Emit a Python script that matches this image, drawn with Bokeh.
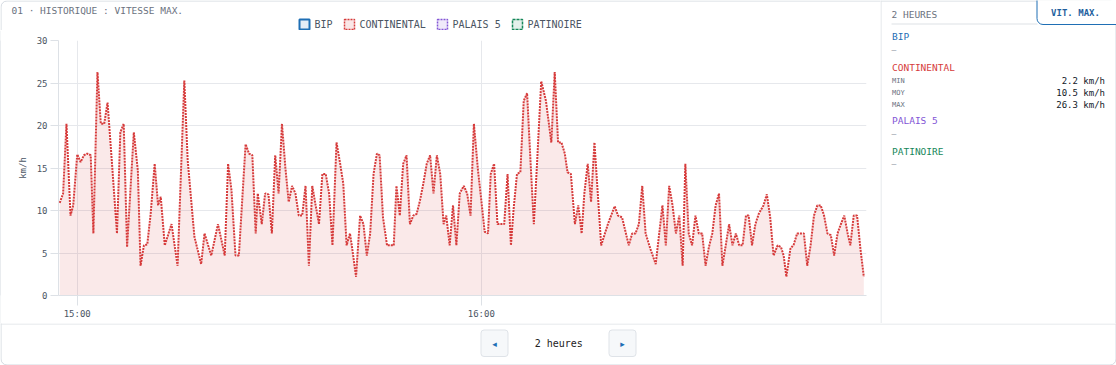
import pandas as pd
from bokeh.plotting import figure
from bokeh.layouts import row, column
from bokeh.models import FixedTicker, DatetimeTickFormatter, Range1d, ColumnDataSource
from bokeh.core.properties import value
from bokeh.embed import file_html
from bokeh.resources import INLINE

# ---------------- data ----------------
# minutes since 15:00 and max speed (km/h) for CONTINENTAL
minutes = [-2.6, -2.1, -1.6, -1.0, -0.6, 0.0, 0.5, 1.0, 1.5, 2.0, 2.4, 3.0, 3.5, 4.0, 4.5,
           5.2, 5.9, 6.4, 6.9, 7.4, 8.4, 9.0, 9.4, 9.9, 10.4, 10.9, 11.5, 12.0, 12.4, 13.0,
           14.0, 14.9, 15.9, 16.4, 17.4, 18.4, 18.9, 19.9, 20.9, 21.9, 22.4, 22.9, 23.5, 24.0,
           25.0, 25.5, 26.0, 26.5, 26.8, 27.4, 27.9, 28.4, 28.9, 29.4, 29.9, 30.4, 30.9, 31.4,
           31.9, 32.4, 32.9, 33.4, 33.9, 34.4, 34.9, 35.4, 35.9, 36.4, 36.9, 37.4, 37.9, 38.5,
           39.0, 39.5, 40.0, 40.5, 40.8, 41.4, 42.0, 42.5, 43.0, 43.5, 44.0, 44.5, 44.9, 45.4,
           46.0, 46.5, 47.0, 47.4, 47.9, 48.4, 48.9, 49.4, 49.9, 50.4, 50.9, 51.4, 51.9, 52.4,
           52.9, 53.4, 53.9, 54.4, 54.8, 55.3, 55.8, 56.3, 56.8, 57.4, 57.9, 58.4, 58.9, 59.5,
           60.0, 60.5, 61.0, 61.4, 61.9, 62.4, 62.9, 63.4, 63.9, 64.4, 64.8, 65.3, 65.8, 66.3,
           66.8, 67.3, 67.8, 68.3, 68.9, 69.6, 70.4, 70.9, 71.4, 71.9, 72.4, 72.8, 73.3, 73.9,
           74.4, 74.9, 75.3, 75.8, 76.3, 76.8, 77.8, 78.8, 79.8, 80.3, 80.9, 81.9, 82.4, 82.9,
           83.4, 83.9, 84.4, 85.1, 85.9, 86.9, 87.4, 87.9, 88.4, 88.9, 89.4, 89.9, 90.3, 90.8,
           91.3, 91.8, 92.3, 92.8, 93.3, 93.8, 94.3, 94.8, 95.3, 95.8, 96.3, 96.8, 97.3, 97.8,
           98.3, 98.8, 99.3, 99.7, 100.2, 100.7, 101.2, 101.9, 102.4, 102.9, 103.4, 104.0, 104.5,
           104.9, 105.3, 105.9, 106.4, 106.9, 107.4, 107.9, 108.4, 108.9, 109.4, 109.9, 110.4,
           110.9, 111.4, 111.9, 112.4, 112.9, 113.4, 113.9, 114.4, 114.8, 115.3, 115.8, 116.3,
           116.8]
speed = [10.9, 12.0, 20.2, 9.4, 10.6, 16.6, 15.7, 16.5, 16.7, 16.5, 7.3, 26.3, 20.2, 20.2, 22.7,
         15.1, 7.3, 19.2, 20.2, 5.7, 19.2, 14.7, 3.5, 5.9, 6.0, 9.6, 15.5, 10.6, 11.6, 5.9,
         8.4, 3.5, 25.3, 15.9, 6.9, 3.7, 7.3, 4.7, 8.4, 4.7, 15.5, 12.4, 4.7, 4.7,
         17.8, 16.7, 16.5, 7.3, 12.0, 8.4, 12.0, 11.9, 7.3, 16.5, 12.0, 20.2, 15.1, 11.0,
         12.9, 12.0, 9.4, 9.4, 12.9, 3.5, 12.9, 10.6, 8.4, 14.3, 14.3, 12.0, 5.9, 18.0,
         15.7, 13.2, 5.9, 7.3, 5.7, 2.2, 9.4, 8.4, 4.7, 7.3, 14.3, 16.7, 16.5, 9.2,
         5.9, 5.9, 5.9, 12.9, 9.4, 15.5, 16.5, 8.4, 9.4, 9.6, 11.2, 13.2, 15.5, 16.5,
         12.0, 16.5, 14.3, 8.4, 9.4, 5.9, 10.6, 5.9, 12.0, 12.9, 12.0, 9.4, 20.2, 14.8,
         11.2, 7.5, 7.3, 14.3, 15.5, 8.4, 8.4, 8.4, 14.3, 5.9, 10.2, 14.3, 14.5, 22.9,
         23.8, 15.9, 8.4, 15.9, 25.2, 22.9, 18.0, 26.3, 18.0, 18.0, 16.7, 14.5, 14.3, 8.4,
         10.6, 7.3, 12.0, 15.5, 11.0, 18.0, 5.9, 8.4, 10.5, 9.4, 9.2, 5.9, 7.3, 7.3,
         8.4, 12.9, 7.3, 5.5, 3.7, 10.6, 5.9, 12.9, 10.6, 7.3, 9.4, 3.5, 15.5, 7.3,
         5.9, 9.4, 7.3, 7.3, 3.5, 5.7, 7.3, 10.6, 12.0, 3.5, 5.9, 8.4, 5.9, 7.3,
         5.9, 5.9, 9.4, 9.4, 5.9, 8.4, 9.6, 10.6, 11.9, 9.2, 4.7, 5.9, 5.7,
         4.7, 2.2, 5.5, 6.0, 7.3, 7.3, 7.3, 3.5, 5.9, 9.4, 10.6, 10.6,
         9.4, 7.3, 7.1, 4.7, 7.3, 8.4, 9.4, 7.3, 5.9, 9.4, 9.4, 5.5,
         2.2]

series_names = ["BIP", "CONTINENTAL", "PALAIS 5", "PATINOIRE"]
series_colors = ["#1f6fb5", "#d63b3b", "#8356d6", "#16875a"]
stat_labels = ["MIN", "MOY", "MAX"]
stat_values = ["2.2 km/h", "10.5 km/h", "26.3 km/h"]
y_ticks = [0, 5, 10, 15, 20, 25, 30]
x_tick_labels = ["15:00", "16:00"]

base = pd.Timestamp("2024-05-01 15:00:00")
times = [base + pd.Timedelta(minutes=m) for m in minutes]
x_ticks = [pd.Timestamp("2024-05-01 " + t) for t in x_tick_labels]

MONO = "DejaVu Sans Mono"
GRAY = "#6b7280"
LINE = "#dde1e6"
CARD = "#d3d9e0"


def canvas(w, h, bg="white"):
    f = figure(width=w, height=h, x_range=Range1d(0, w), y_range=Range1d(h, 0),
               min_border=0, output_backend="svg", toolbar_location=None,
               x_axis_location=None, y_axis_location=None)
    f.grid.visible = False
    f.outline_line_color = None
    f.background_fill_color = bg
    f.border_fill_color = bg
    return f


def txt(f, X, Y, s, size="9px", color=GRAY, align="left", style="normal", font=MONO):
    f.text(x=[X], y=[Y], text=[s], text_font=value(font), text_font_size=size,
           text_color=color, text_align=align, text_baseline="middle", text_font_style=style)


def rect(f, l, r, t, b, fill=None, line=None, lw=1, dash="solid", radius=0, falpha=1.0):
    f.quad(left=[l], right=[r], top=[t], bottom=[b],
           fill_color=fill if fill else "white", fill_alpha=falpha if fill else 0,
           line_color=line if line else "white", line_alpha=1 if line else 0,
           line_width=lw, line_dash=dash, border_radius=radius)


# ---------------- top strip: title + legend ----------------
top = canvas(880, 30)
rect(top, 0.5, 2000, 0.5, 2000, line=CARD, radius=6)
txt(top, 11, 10, "01 · HISTORIQUE : VITESSE MAX.", size="9.5px", color=GRAY)
leg_x = [299, 344, 437, 512]
leg_dash = ["solid", "2 1", "2 1", "3 1"]
leg_lw = [2, 1.5, 1.5, 1.5]
for xx, name, col, dsh, lw in zip(leg_x, series_names, series_colors, leg_dash, leg_lw):
    rect(top, xx, xx + 10, 19, 29, fill=col, falpha=0.12, line=col, lw=lw, dash=dsh)
    txt(top, xx + 15, 24, name, size="10px", color="#4b5563")

# ---------------- left border strip ----------------
strip = canvas(1, 293, bg=CARD)

# ---------------- chart ----------------
src = ColumnDataSource(dict(t=times, v=speed))
p = figure(width=879, height=293, output_backend="svg", toolbar_location=None,
           x_axis_type="datetime",
           x_range=Range1d(times[0] - pd.Timedelta(seconds=11), times[-1] + pd.Timedelta(seconds=24)),
           y_range=Range1d(0, 30),
           min_border_left=57, min_border_right=14, min_border_top=10, min_border_bottom=28)
p.background_fill_color = "white"
p.border_fill_color = "white"
p.outline_line_color = None

p.varea(x="t", y1=0, y2="v", source=src, fill_color="#d63b3b", fill_alpha=0.11)
p.line(x="t", y="v", source=src, line_color="#d63b3b", line_width=2, line_dash="2 1")

p.yaxis.ticker = FixedTicker(ticks=y_ticks)
p.xaxis.ticker = FixedTicker(ticks=[t.value / 1e6 for t in x_ticks])
p.xaxis.formatter = DatetimeTickFormatter(hours="%H:%M", minutes="%H:%M", hourmin="%H:%M")
for ax in (p.xaxis[0], p.yaxis[0]):
    ax.axis_line_color = LINE
    ax.major_tick_line_color = LINE
    ax.minor_tick_line_color = None
    ax.major_tick_in = 0
    ax.major_label_text_font = MONO
    ax.major_label_text_font_size = "9px"
    ax.major_label_text_color = "#4b5563"
p.yaxis.major_tick_out = 8
p.yaxis.major_label_standoff = 3
p.xaxis.major_tick_out = 10
p.xaxis.major_label_standoff = 3
p.yaxis.axis_label = "km/h"
p.yaxis.axis_label_text_font = MONO
p.yaxis.axis_label_text_font_size = "9px"
p.yaxis.axis_label_text_font_style = "normal"
p.yaxis.axis_label_text_color = "#4b5563"
p.yaxis.axis_label_standoff = 6
p.ygrid.grid_line_color = "#e6e8ec"
p.xgrid.grid_line_color = "#e6e8ec"

# ---------------- right panel ----------------
rp = canvas(236, 323)
rect(rp, -50, 235.5, 0.5, 2000, line=CARD, radius=6)
rect(rp, 0, 1, 0, 323, fill=LINE)
txt(rp, 11, 14, "2 HEURES", size="9.5px", color=GRAY)
rect(rp, 11, 157, 23, 24, fill=LINE)
rect(rp, 156.5, 300, -10, 24, fill="white", line="#1f6fb5", lw=1, radius=6)
txt(rp, 195, 12.5, "VIT. MAX.", size="9px", color="#1f5f9e", align="center", style="bold")

sec_y = [36, 66.7, 120, 150.7]
dash_y = [50, None, 134, 164]
for name, col, yy, dy in zip(series_names, series_colors, sec_y, dash_y):
    txt(rp, 11.5, yy, name, size="9.5px", color=col)
    if dy is not None:
        txt(rp, 11, dy, "—", size="8px", color="#9aa1ab")
for lab, val, yy in zip(stat_labels, stat_values, [80.7, 92.7, 104.7]):
    txt(rp, 11.5, yy, lab, size="7px", color=GRAY)
    txt(rp, 224.5, yy, val, size="9px", color="#111827", align="right")

# ---------------- bottom navigation ----------------
nav = canvas(1116, 42)
rect(nav, 0.5, 1115.5, -100, 41.5, line=CARD, radius=6)
rect(nav, 0, 1116, 0, 1, fill=LINE)
rect(nav, 480.5, 507.5, 6.5, 33, fill="#f6f8fa", line="#dfe3e8", radius=3)
rect(nav, 608.5, 635.5, 6.5, 33, fill="#f6f8fa", line="#dfe3e8", radius=3)
txt(nav, 494, 20, "◂", size="9px", color="#1f6fb5", align="center", font="DejaVu Sans")
txt(nav, 622, 20, "▸", size="9px", color="#1f6fb5", align="center", font="DejaVu Sans")
txt(nav, 558.3, 20, "2 heures", size="10px", color="#222222", align="center")

layout = column(row(column(top, row(strip, p, spacing=0), spacing=0), rp, spacing=0), nav, spacing=0)

open("out.html", "w").write(file_html(layout, INLINE))
